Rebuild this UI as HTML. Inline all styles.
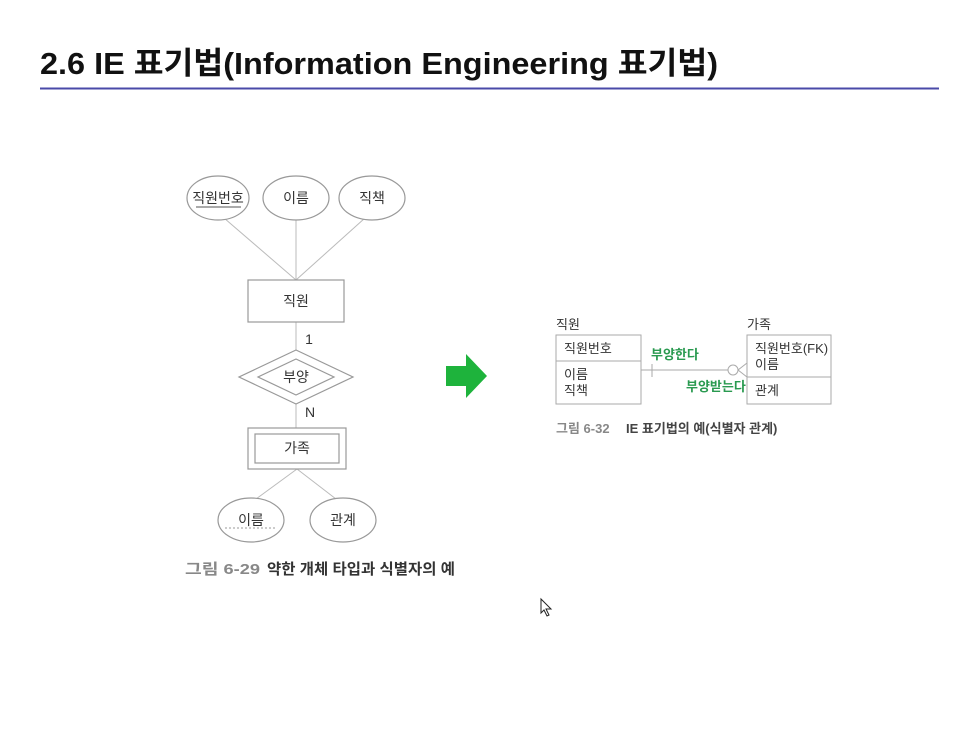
<!DOCTYPE html>
<html><head><meta charset="utf-8"><style>
html,body{margin:0;padding:0;background:#fff;}
svg{display:block;}
text{font-family:"Liberation Sans","Noto Sans CJK KR",sans-serif;}
</style></head><body>
<svg width="977" height="732" viewBox="0 0 977 732">
<text x="40" y="74" font-size="31" font-weight="bold" fill="#111" textLength="678" lengthAdjust="spacingAndGlyphs">2.6 IE 표기법(Information Engineering 표기법)</text>
<line x1="40" y1="88.5" x2="939" y2="88.5" stroke="#4a4aa8" stroke-width="2"/>

<g stroke="#bbb" stroke-width="1" fill="none">
<line x1="224" y1="218" x2="296" y2="280"/>
<line x1="296" y1="220" x2="296" y2="280"/>
<line x1="365" y1="218" x2="296" y2="280"/>
<line x1="296" y1="322" x2="296" y2="350"/>
<line x1="296" y1="404" x2="296" y2="428"/>
<line x1="297" y1="469" x2="256" y2="499"/>
<line x1="297" y1="469" x2="336" y2="499"/>
</g>
<g stroke="#999" stroke-width="1.2" fill="#fff">
<ellipse cx="218" cy="198" rx="31" ry="22"/>
<ellipse cx="296" cy="198" rx="33" ry="22"/>
<ellipse cx="372" cy="198" rx="33" ry="22"/>
<rect x="248" y="280" width="96" height="42"/>
<polygon points="296,350 353,377 296,404 239,377"/>
<polygon points="296,359 334,377 296,395 258,377"/>
<rect x="248" y="428" width="98" height="41"/>
<rect x="255" y="434" width="84" height="29"/>
<ellipse cx="251" cy="520" rx="33" ry="22"/>
<ellipse cx="343" cy="520" rx="33" ry="22"/>
</g>
<line x1="196" y1="207" x2="241" y2="207" stroke="#555" stroke-width="1"/>
<line x1="225" y1="528" x2="277" y2="528" stroke="#999" stroke-width="1" stroke-dasharray="2,2"/>
<g font-size="14" fill="#333" text-anchor="middle">
<text x="218" y="203">직원번호</text>
<text x="296" y="203">이름</text>
<text x="372" y="203">직책</text>
<text x="296" y="306">직원</text>
<text x="296" y="382">부양</text>
<text x="297" y="453">가족</text>
<text x="251" y="525">이름</text>
<text x="343" y="525">관계</text>
<text x="309" y="344">1</text>
<text x="310" y="417">N</text>
</g>
<text x="185" y="574" font-size="15" font-weight="bold" fill="#888" textLength="75" lengthAdjust="spacingAndGlyphs">그림 6-29</text>
<text x="267" y="574" font-size="15" font-weight="bold" fill="#333" textLength="188" lengthAdjust="spacingAndGlyphs">약한 개체 타입과 식별자의 예</text>

<polygon points="446,366 466,366 466,354 487,376 466,398 466,386 446,386" fill="#1eb33c"/>

<g font-size="13" fill="#333">
<text x="556" y="329">직원</text>
<text x="747" y="329">가족</text>
<text x="564" y="353">직원번호</text>
<text x="564" y="379">이름</text>
<text x="564" y="395">직책</text>
<text x="755" y="353">직원번호(FK)</text>
<text x="755" y="369">이름</text>
<text x="755" y="395">관계</text>
</g>
<g stroke="#aaa" stroke-width="1" fill="none">
<rect x="556" y="335" width="85" height="69"/>
<line x1="556" y1="361" x2="641" y2="361"/>
<rect x="747" y="335" width="84" height="69"/>
<line x1="747" y1="377" x2="831" y2="377"/>
<line x1="641" y1="370" x2="728" y2="370"/>
<line x1="652" y1="364" x2="652" y2="377"/>
<circle cx="733" cy="370" r="5"/>
<line x1="738" y1="370" x2="747" y2="363"/>
<line x1="738" y1="370" x2="747" y2="377"/>
</g>
<text x="651" y="359" font-size="13" font-weight="bold" fill="#2a9a50">부양한다</text>
<text x="686" y="391" font-size="13" font-weight="bold" fill="#2a9a50">부양받는다</text>
<text x="556" y="433" font-size="13" font-weight="bold" fill="#888">그림 6-32</text>
<text x="626" y="433" font-size="13" font-weight="bold" fill="#444">IE 표기법의 예(식별자 관계)</text>

<path d="M541,599 L541,613 L544,610 L547,616 L549,615 L546,609 L551,609 Z" fill="#fff" stroke="#222" stroke-width="1"/>
</svg>
</body></html>
